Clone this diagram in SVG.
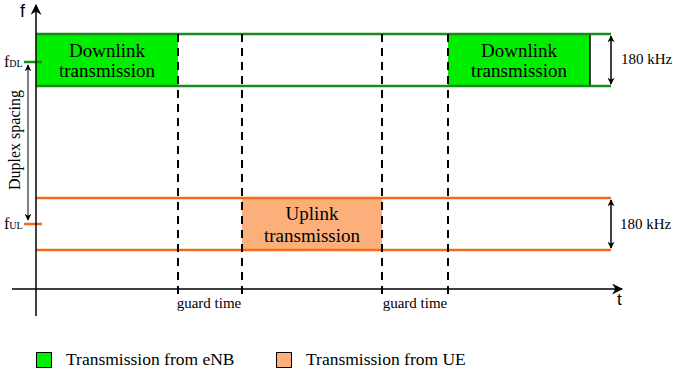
<svg xmlns="http://www.w3.org/2000/svg" width="673" height="379" viewBox="0 0 673 379">
<defs>
<marker id="ah" viewBox="0 0 10 10" refX="9" refY="5" markerWidth="7" markerHeight="7" orient="auto-start-reverse" markerUnits="userSpaceOnUse">
<path d="M0,0 L10,5 L0,10 L3,5 Z" fill="#000"/>
</marker>
<marker id="ah2" viewBox="0 0 10 10" refX="9" refY="5" markerWidth="11" markerHeight="11" orient="auto-start-reverse" markerUnits="userSpaceOnUse">
<path d="M0,0 L10,5 L0,10 L3,5 Z" fill="#000"/>
</marker>
</defs>
<rect width="673" height="379" fill="#fff"/>

<g id="dl1">
<rect x="36" y="34" width="142" height="52" fill="#00ee00"/>
<text font-family="'Liberation Serif', 'Times New Roman', serif" font-size="19" text-anchor="middle" x="107" y="57">Downlink</text>
<text font-family="'Liberation Serif', 'Times New Roman', serif" font-size="19" text-anchor="middle" x="107" y="77">transmission</text>
</g>
<g id="dl2">
<rect x="448" y="34" width="142" height="52" fill="#00ee00"/>
<line x1="590" y1="34" x2="590" y2="86" stroke="#000" stroke-width="1.5"/>
<text font-family="'Liberation Serif', 'Times New Roman', serif" font-size="19" text-anchor="middle" x="519" y="57">Downlink</text>
<text font-family="'Liberation Serif', 'Times New Roman', serif" font-size="19" text-anchor="middle" x="519" y="77">transmission</text>
</g>
<g id="ul">
<rect x="242" y="198" width="140" height="52" fill="#fbb07c"/>
<text font-family="'Liberation Serif', 'Times New Roman', serif" font-size="19" text-anchor="middle" x="312" y="220">Uplink</text>
<text font-family="'Liberation Serif', 'Times New Roman', serif" font-size="19" text-anchor="middle" x="312" y="242">transmission</text>
</g>

<g id="connectors" fill="none">
<g stroke="#1a8a1a" stroke-width="2.5">
<line x1="36" y1="34" x2="611" y2="34"/>
<line x1="36" y1="86" x2="611" y2="86"/>
<line x1="24" y1="62" x2="42" y2="62"/>
</g>
<g stroke="#f36b16" stroke-width="2.5">
<line x1="36" y1="198" x2="611" y2="198"/>
<line x1="36" y1="250" x2="611" y2="250"/>
<line x1="24" y1="224" x2="42" y2="224"/>
</g>
<g stroke="#000" stroke-width="2" stroke-dasharray="8,6">
<line x1="178" y1="34" x2="178" y2="294"/>
<line x1="242" y1="34" x2="242" y2="294"/>
<line x1="382" y1="34" x2="382" y2="294"/>
<line x1="448" y1="34" x2="448" y2="294"/>
</g>
<line stroke="#000" stroke-width="1.5" x1="36" y1="316" x2="36" y2="5" marker-end="url(#ah2)"/>
<line stroke="#000" stroke-width="1.5" x1="12" y1="289" x2="622" y2="289" marker-end="url(#ah2)"/>
<line x1="28" y1="65" x2="28" y2="220" stroke="#808080" stroke-width="2" marker-start="url(#ah)" marker-end="url(#ah)"/>
<line x1="611" y1="36" x2="611" y2="84" stroke="#000" stroke-width="1.5" marker-start="url(#ah)" marker-end="url(#ah)"/>
<line x1="611" y1="200" x2="611" y2="248" stroke="#000" stroke-width="1.5" marker-start="url(#ah)" marker-end="url(#ah)"/>
</g>

<g id="labels" font-family="'Liberation Serif', 'Times New Roman', serif" fill="#000">
<text font-family="'Liberation Sans', Arial, sans-serif" font-size="18" x="20" y="17">f</text>
<text font-family="'Liberation Sans', Arial, sans-serif" font-size="17" x="617" y="305">t</text>
<text font-size="16" x="4" y="67">f<tspan font-size="10">DL</tspan></text>
<text font-size="16" x="4" y="229">f<tspan font-size="10">UL</tspan></text>
<text font-size="16" text-anchor="middle" transform="translate(20,140) rotate(-90)">Duplex spacing</text>
<text font-size="15" x="621" y="64">180 kHz</text>
<text font-size="15" x="620" y="229">180 kHz</text>
<text font-size="15" text-anchor="middle" x="209" y="308">guard time</text>
<text font-size="15" text-anchor="middle" x="415" y="308">guard time</text>
</g>

<g id="legend" font-family="'Liberation Serif', 'Times New Roman', serif" fill="#000">
<rect x="36.5" y="352.5" width="15" height="15" fill="#00ee00" stroke="#000" stroke-width="1"/>
<text font-size="17.5" x="66" y="365">Transmission from eNB</text>
<rect x="276.5" y="352.5" width="15" height="15" fill="#fbb07c" stroke="#000" stroke-width="1"/>
<text font-size="17.5" x="306" y="365">Transmission from UE</text>
</g>
</svg>
